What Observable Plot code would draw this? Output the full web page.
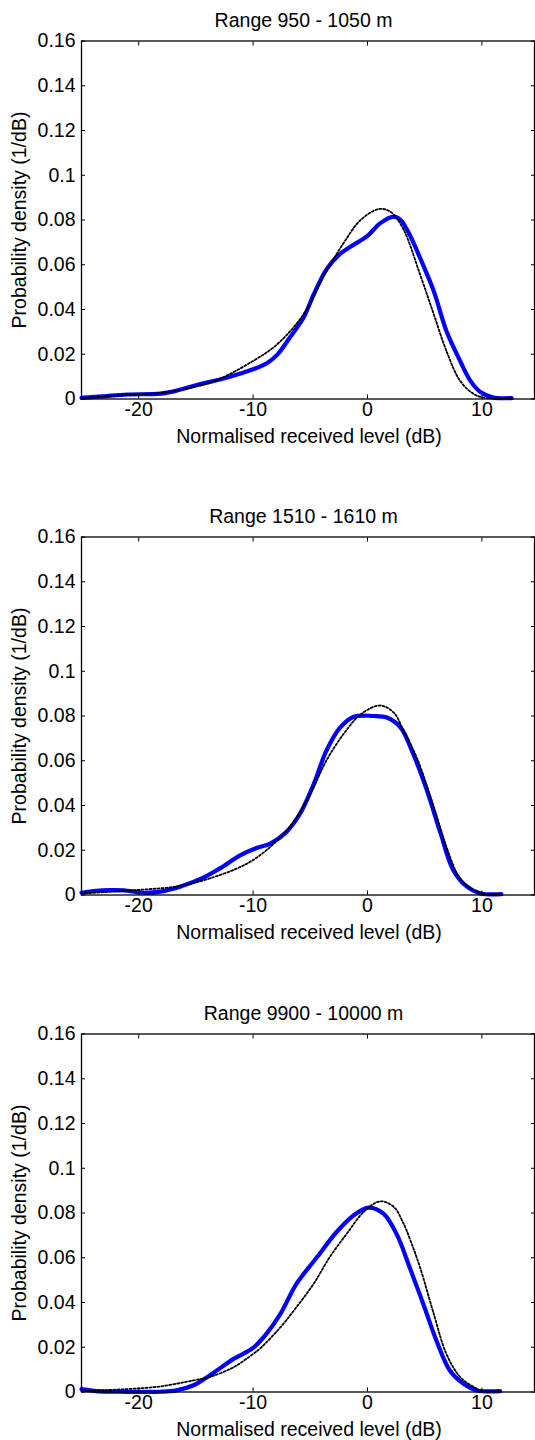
<!DOCTYPE html>
<html>
<head>
<meta charset="utf-8">
<script src="https://cdn.jsdelivr.net/npm/d3@7"></script>
<script src="https://cdn.jsdelivr.net/npm/@observablehq/plot@0.6"></script>
<style>
  html, body { margin: 0; padding: 0; background: #fff; }
  body { width: 535px; height: 1440px; overflow: hidden; position: relative; }
  .panel { position: absolute; left: 0; width: 535px; }
</style>
</head>
<body>
<div id="root"></div>
<script>
// ---- data ----
const panelTitles = ["Range 950 - 1050 m", "Range 1510 - 1610 m", "Range 9900 - 10000 m"];
const xTicks = [-20, -10, 0, 10];
const yTicks = [0, 0.02, 0.04, 0.06, 0.08, 0.1, 0.12, 0.14, 0.16];
const xLabel = "Normalised received level (dB)";
const yLabel = "Probability density (1/dB)";

// Panel 1: Range 950 - 1050 m  [level dB, density]
const measured950 = [[-25,0.0005],[-23.1,0.0012],[-21,0.002],[-18.1,0.0024],[-16.7,0.0037],[-14.6,0.0067],[-12.9,0.0087],[-11.1,0.0114],[-10,0.0133],[-8.8,0.016],[-7.9,0.0197],[-6.8,0.0274],[-5.6,0.0363],[-4.7,0.0467],[-3.6,0.0578],[-2.5,0.0644],[-1.5,0.068],[0,0.0729],[1.1,0.0785],[2.3,0.0815],[2.9,0.080],[3.7,0.0733],[4.6,0.063],[5.8,0.0481],[6.9,0.0304],[8.1,0.017],[9,0.0081],[9.9,0.003],[11,0.0007],[12.6,0.0004]];
const model950 = [[-25,0.0004],[-21,0.0018],[-18.1,0.0027],[-14.6,0.006],[-12.9,0.009],[-10,0.017],[-7.9,0.0244],[-5.6,0.0378],[-3.6,0.057],[-2.1,0.0696],[-0.6,0.08],[1.0,0.0849],[2.0,0.0837],[3.1,0.0763],[4.6,0.0556],[5.8,0.0378],[6.9,0.0215],[8.1,0.0081],[9.3,0.0022],[10.4,0.0004],[12.6,0.0004]];

// Panel 2: Range 1510 - 1610 m
const measured1510 = [[-25,0.001],[-23.7,0.0019],[-22.5,0.0022],[-21.3,0.0021],[-19.6,0.001],[-18.1,0.0015],[-16.4,0.0037],[-14.3,0.0079],[-12.9,0.0119],[-11.1,0.0178],[-9.7,0.021],[-8.5,0.023],[-7.1,0.0281],[-5.9,0.0363],[-4.7,0.0496],[-3.6,0.0644],[-2.4,0.0748],[-1.2,0.0797],[0.5,0.08],[1.7,0.0793],[2.9,0.0748],[4.0,0.063],[5.2,0.0467],[6.4,0.0274],[7.5,0.0111],[8.7,0.0037],[9.9,0.0007],[11.7,0.0004]];
const model1510 = [[-25,0.0007],[-20.2,0.0022],[-16.4,0.004],[-13.8,0.0074],[-11.4,0.0119],[-10,0.0156],[-8.5,0.0215],[-6.8,0.0304],[-5,0.0452],[-3.6,0.06],[-2.1,0.0719],[-0.6,0.0807],[1.1,0.0847],[2.3,0.0815],[3.1,0.074],[4.3,0.0615],[5.8,0.0393],[6.9,0.0215],[8.1,0.0074],[9.3,0.0022],[10.4,0.0004],[11.7,0.0004]];

// Panel 3: Range 9900 - 10000 m
const measured9900 = [[-25,0.0013],[-23.4,0.0003],[-21,0.0001],[-18.1,0.0001],[-16.7,0.0007],[-15.2,0.003],[-13.8,0.0074],[-11.7,0.0148],[-10,0.0197],[-8.8,0.0262],[-7.6,0.035],[-6.2,0.0484],[-4.4,0.0603],[-2.7,0.0715],[-1.2,0.079],[0.1,0.0824],[1.4,0.0797],[2.6,0.0700],[3.7,0.0555],[4.9,0.039],[6.1,0.022],[7.2,0.0096],[8.4,0.0037],[9.6,0.0007],[11.6,0.0004]];
const model9900 = [[-25,0.0004],[-21,0.0013],[-18.1,0.0025],[-15.2,0.0052],[-13.8,0.0067],[-11.7,0.0111],[-10,0.017],[-9.4,0.0194],[-7.6,0.029],[-6.2,0.038],[-4.7,0.0484],[-3.3,0.0603],[-1.8,0.0708],[-0.35,0.0804],[1.1,0.0852],[2.3,0.0827],[3.15,0.0753],[3.75,0.0678],[4.6,0.0556],[5.8,0.0348],[6.9,0.017],[8.1,0.0067],[9.3,0.0022],[10.1,0.0004],[11.6,0.0004]];

const measuredSeries = [measured950, measured1510, measured9900];
const modelSeries = [model950, model1510, model9900];

// ---- layout ----
const panelTops = [0, 496.2, 993.2];
const font = "'Liberation Sans', Arial, Helvetica, sans-serif";
const fs = 19.5;
const fmt = d => String(d);

const root = document.getElementById("root");
panelTitles.forEach((title, i) => {
  const chart = Plot.plot({
    width: 535,
    height: 450,
    marginLeft: 81,
    marginRight: 1,
    marginTop: 40.5,
    marginBottom: 51.5,
    style: {fontFamily: font, fontSize: fs + "px", color: "black", background: "white", overflow: "visible"},
    x: {domain: [-25, 14.6]},
    y: {domain: [0, 0.16]},
    marks: [
      Plot.line(measuredSeries[i], {x: d => d[0], y: d => d[1], stroke: "#0000ff", strokeWidth: 4.2, curve: "catmull-rom"}),
      Plot.line(modelSeries[i], {x: d => d[0], y: d => d[1], stroke: "black", strokeWidth: 1.8, strokeDasharray: "2,2", curve: "catmull-rom"}),
      Plot.frame({stroke: "black", strokeWidth: 1.3}),
      Plot.axisX({anchor: "bottom", ticks: xTicks, tickSize: -4, tickPadding: 7, tickFormat: fmt, label: null, fontSize: fs}),
      Plot.axisX({anchor: "top", ticks: xTicks, tickSize: -4, tickFormat: () => "", label: null}),
      Plot.axisY({anchor: "left", ticks: yTicks, tickSize: -4, tickPadding: 10, tickFormat: fmt, label: null, fontSize: fs}),
      Plot.axisY({anchor: "right", ticks: yTicks, tickSize: -4, tickFormat: () => "", label: null}),
      Plot.text([xLabel], {text: d => d, frameAnchor: "bottom", dy: 38, dx: 1, lineAnchor: "middle", textAnchor: "middle", fontSize: fs, fill: "black"}),
      Plot.text([yLabel], {text: d => d, frameAnchor: "left", dx: -62, rotate: -90, lineAnchor: "middle", textAnchor: "middle", fontSize: fs, fill: "black"}),
      Plot.text([title], {text: d => d, frameAnchor: "top", dy: -20, dx: -4.5, lineAnchor: "middle", textAnchor: "middle", fontSize: fs, fill: "black"})
    ]
  });
  const wrap = document.createElement("div");
  wrap.className = "panel";
  wrap.style.top = panelTops[i] + "px";
  wrap.appendChild(chart);
  root.appendChild(wrap);
});
</script>
</body>
</html>
